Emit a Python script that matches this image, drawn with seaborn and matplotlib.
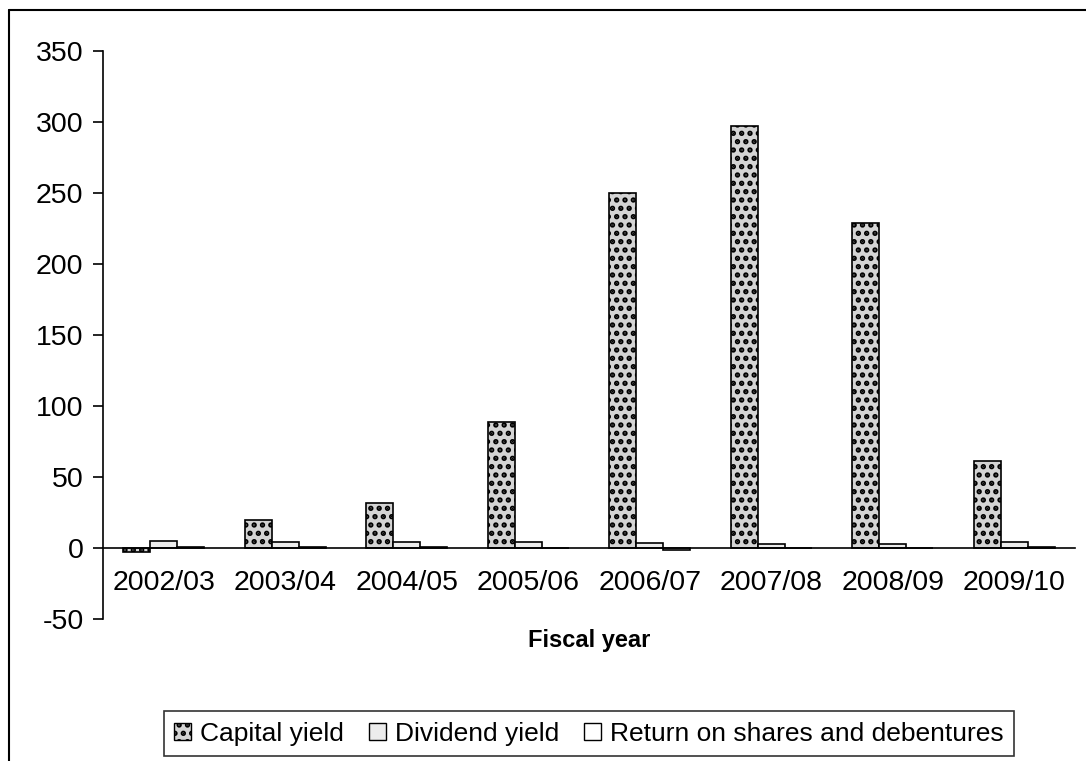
import numpy as np
import pandas as pd
import seaborn as sns
import matplotlib.pyplot as plt
from matplotlib.patches import Patch
from matplotlib.lines import Line2D

years = ["2002/03", "2003/04", "2004/05", "2005/06", "2006/07", "2007/08", "2008/09", "2009/10"]
capital_yield = [-2.5, 20, 32, 89, 250, 297, 229, 61]
dividend_yield = [5, 4, 4, 4, 3.5, 3, 3, 4]
return_shares = [1, 1, 1, 0, -1.5, 0, 0, 1]
series_names = ["Capital yield", "Dividend yield", "Return on shares and debentures"]
y_ticks = [-50, 0, 50, 100, 150, 200, 250, 300, 350]

sns.set_theme(style="white")
plt.rcParams["font.family"] = ["Liberation Sans", "DejaVu Sans"]
plt.rcParams["axes.unicode_minus"] = False
plt.rcParams["hatch.linewidth"] = 2.6
plt.rcParams["text.color"] = "black"
plt.rcParams["xtick.color"] = "black"
plt.rcParams["ytick.color"] = "black"
plt.rcParams["xtick.labelcolor"] = "black"
plt.rcParams["ytick.labelcolor"] = "black"

df = pd.DataFrame({
    "year": years * 3,
    "value": capital_yield + dividend_yield + return_shares,
    "series": [series_names[0]] * 8 + [series_names[1]] * 8 + [series_names[2]] * 8,
})

fig = plt.figure(figsize=(10.86, 7.61), dpi=100)
ax = fig.add_axes([0.0948, 0.1866, 0.8951, 0.7464])

sns.barplot(data=df, x="year", y="value", hue="series", order=years,
            hue_order=series_names, width=0.667, ax=ax, legend=False,
            errorbar=None, saturation=1)

styles = [
    dict(facecolor="#d4d4d4", hatch="..", edgecolor="black"),
    dict(facecolor="#ececec", hatch="", edgecolor="black"),
    dict(facecolor="white", hatch="", edgecolor="black"),
]
for cont, st in zip(ax.containers, styles):
    for bar in cont:
        bar.set_facecolor(st["facecolor"])
        bar.set_hatch(st["hatch"])
        bar.set_edgecolor(st["edgecolor"])
        bar.set_linewidth(1.2)

ax.set_xlim(-0.5, len(years) - 0.5)
ax.set_ylim(-50, 350)
ax.set_yticks(y_ticks)
ax.set_yticklabels([str(v) for v in y_ticks], fontsize=20.5, color="black")

ax.spines["top"].set_visible(False)
ax.spines["right"].set_visible(False)
ax.spines["bottom"].set_position(("data", 0))
for s in ["left", "bottom"]:
    ax.spines[s].set_color("black")
    ax.spines[s].set_linewidth(1.2)

ax.set_xticks(range(len(years)))
ax.set_xticklabels(years, fontsize=20.5, color="black")
ax.set_xticks(np.arange(0.5, len(years), 1.0), minor=True)
ax.tick_params(axis="x", which="major", length=0, pad=16)
ax.tick_params(axis="x", which="minor", length=7, width=1.2, color="black", direction="out")
ax.tick_params(axis="y", which="major", length=7, width=1.2, color="black", direction="out", pad=7, left=True)

ax.set_xlabel("")
ax.set_ylabel("")
fig.text(0.5424, 1 - 641 / 761, "Fiscal year", ha="center", va="center",
         fontsize=17, fontweight="bold", color="black")

handles = [Patch(facecolor=st["facecolor"], hatch=st["hatch"], edgecolor="black", linewidth=1.0)
           for st in styles]
leg = fig.legend(handles, series_names, loc="upper center",
                 bbox_to_anchor=(0.5424, 1 - 711 / 761), ncol=3, fontsize=19,
                 frameon=True, fancybox=False, edgecolor="black",
                 handlelength=0.63, handleheight=0.63, handletextpad=0.35,
                 columnspacing=0.95, borderpad=0.4, borderaxespad=0)
leg.get_frame().set_linewidth(1.2)
for t in leg.get_texts():
    t.set_color("black")

# outer chart-area frame on left and top
fig.add_artist(Line2D([9 / 1086, 9 / 1086], [0, 1 - 10 / 761], transform=fig.transFigure,
                      color="black", linewidth=1.5))
fig.add_artist(Line2D([9 / 1086, 1], [1 - 10 / 761, 1 - 10 / 761], transform=fig.transFigure,
                      color="black", linewidth=1.5))

fig.savefig("out.png", dpi=100, facecolor="white")
